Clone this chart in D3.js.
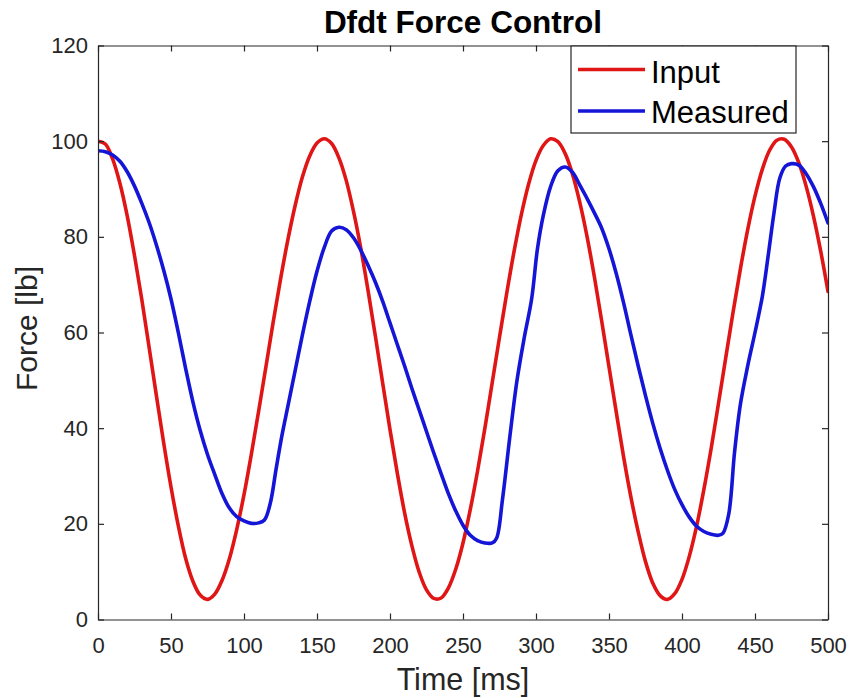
<!DOCTYPE html>
<html>
<head>
<meta charset="utf-8">
<script src="https://cdn.jsdelivr.net/npm/d3@7"></script>
<style>
  body { margin: 0; background: #fff; }
  svg { font-family: "Liberation Sans", Arial, sans-serif; }
</style>
</head>
<body>
<div id="chart"></div>
<script>
// time axis samples (ms) and force values (lb)
const inputTime = [0,5,10,15,20,25,30,35,40,45,50,55,60,65,70,75,80,85,90,95,100,105,110,115,120,125,130,135,140,145,150,155,160,165,170,175,180,185,190,195,200,205,210,215,220,225,230,235,240,245,250,255,260,265,270,275,280,285,290,295,300,305,310,315,320,325,330,335,340,345,350,355,360,365,370,375,380,385,390,395,400,405,410,415,420,425,430,435,440,445,450,455,460,465,470,475,480,485,490,495,500];
const inputForce = [100,99.4,96.3,91.2,84.4,76.1,66.9,56.9,46.8,36.9,27.7,19.6,12.8,8.0,5.1,4.2,5.3,8.2,12.7,18.8,26.1,34.5,43.5,52.8,62.2,71.1,79.3,86.5,92.5,96.9,99.6,100.5,99.5,96.5,91.8,85.3,77.6,68.7,59.2,49.4,39.7,30.6,22.3,15.4,9.9,6.2,4.4,4.5,6.6,10.5,16.0,23.0,31.1,40.0,49.5,59.0,68.3,77.0,84.7,91.1,96.0,99.1,100.5,99.9,97.4,93.1,87.2,80.0,71.6,62.4,52.8,43.3,34.0,25.6,18.3,12.1,7.6,5.0,4.2,5.4,8.4,13.2,19.5,27.2,35.8,45.2,54.8,64.3,73.3,81.5,88.5,94.1,98.1,100.2,100.4,98.8,95.5,90.6,84.4,77.0,68.6];

const measuredTime = [0,5,10,15,20,25,30,35,40,45,50,55,60,65,70,75,80,85,90,95,100,105,110,114,118,122,126,130,135,140,145,150,155,160,165,170,175,180,185,190,195,200,205,210,215,220,225,230,235,240,245,250,255,260,265,270,273,277,282,287,292,297,301,305,310,315,320,325,330,335,340,345,350,355,360,365,370,375,380,385,390,395,400,405,410,415,420,425,428,432,436,440,445,450,455,459,463,467,471,475,480,485,490,495,500];
const measuredForce = [98.0,97.8,97.1,95.8,93.6,90.6,87.0,83.0,78.3,73.0,67.0,60.0,52.5,45.5,39.5,34.5,30.3,26.3,23.3,21.5,20.6,20.1,20.2,20.8,24.3,31.5,38.5,44.5,52,59.5,66.5,72.8,77.8,81.2,82.0,81.5,79.8,77.2,74,70.5,66.5,62,57.5,53,48.3,43.8,39.3,34.8,30.5,26.3,22.7,19.7,17.6,16.5,16,16,17,25,38,50,59,67,77.5,84.5,90.5,93.8,94.6,93.5,90.8,88,85,81.8,77.5,72.3,66.2,59.5,53,46.8,41,35.8,31.2,27.2,24,21.4,19.5,18.4,17.8,17.6,18,22,35,45,53,60,67.5,76,85,92.3,94.8,95.3,95,93.2,90.5,87,82.9];

const xTicks = [0,50,100,150,200,250,300,350,400,450,500];
const yTicks = [0,20,40,60,80,100,120];
const seriesNames = ["Input", "Measured"];
const seriesColors = ["#e01515", "#1515d8"];

const W = 850, H = 698;
const plot = { left: 98, right: 828, top: 45.5, bottom: 619.5 };
const axisColor = "#262626";

const svg = d3.select("#chart").append("svg")
  .attr("width", W).attr("height", H);

const x = d3.scaleLinear().domain([0, 500]).range([plot.left, plot.right]);
const y = d3.scaleLinear().domain([0, 120]).range([plot.bottom, plot.top]);

// data lines
svg.append("clipPath").attr("id", "clip")
  .append("rect")
  .attr("x", plot.left).attr("y", plot.top)
  .attr("width", plot.right - plot.left).attr("height", plot.bottom - plot.top);

const line = d3.line()
  .x(d => x(d[0]))
  .y(d => y(d[1]))
  .curve(d3.curveCatmullRom.alpha(0.5));

const series = [
  d3.zip(inputTime, inputForce),
  d3.zip(measuredTime, measuredForce)
];

const lines = svg.append("g").attr("clip-path", "url(#clip)");
series.forEach((s, i) => {
  lines.append("path")
    .attr("d", line(s))
    .attr("fill", "none")
    .attr("stroke", seriesColors[i])
    .attr("stroke-width", 3.6)
    .attr("stroke-linejoin", "round")
    .attr("stroke-linecap", "round");
});

// axes (box with inward ticks)
function styleAxis(g) {
  g.select(".domain").attr("stroke", axisColor).attr("stroke-width", 1.2);
  g.selectAll(".tick line").attr("stroke", axisColor).attr("stroke-width", 1.2);
  g.selectAll(".tick text").attr("fill", axisColor).attr("font-size", 22)
    .attr("font-family", "'Liberation Sans', Arial, sans-serif");
}

svg.append("g")
  .attr("transform", `translate(0,${plot.bottom})`)
  .call(d3.axisBottom(x).tickValues(xTicks).tickSizeInner(-6).tickSizeOuter(0).tickPadding(18))
  .call(styleAxis);

svg.append("g")
  .attr("transform", `translate(0,${plot.top})`)
  .call(d3.axisTop(x).tickValues(xTicks).tickSizeInner(-6).tickSizeOuter(0).tickFormat(""))
  .call(styleAxis);

svg.append("g")
  .attr("transform", `translate(${plot.left},0)`)
  .call(d3.axisLeft(y).tickValues(yTicks).tickSizeInner(-6).tickSizeOuter(0).tickPadding(10))
  .call(styleAxis);

svg.append("g")
  .attr("transform", `translate(${plot.right},0)`)
  .call(d3.axisRight(y).tickValues(yTicks).tickSizeInner(-6).tickSizeOuter(0).tickFormat(""))
  .call(styleAxis);

// title and axis labels
svg.append("text")
  .attr("x", (plot.left + plot.right) / 2).attr("y", 33)
  .attr("text-anchor", "middle")
  .attr("font-size", 31.5).attr("font-weight", "bold")
  .attr("fill", "#000")
  .text("Dfdt Force Control");

svg.append("text")
  .attr("x", (plot.left + plot.right) / 2).attr("y", 690)
  .attr("text-anchor", "middle")
  .attr("font-size", 30.5)
  .attr("fill", axisColor)
  .text("Time [ms]");

svg.append("text")
  .attr("transform", `translate(37,${(plot.top + plot.bottom) / 2 - 4}) rotate(-90)`)
  .attr("text-anchor", "middle")
  .attr("font-size", 30)
  .attr("fill", axisColor)
  .text("Force [lb]");

// legend
const legend = svg.append("g");
legend.append("rect")
  .attr("x", 571).attr("y", 46)
  .attr("width", 225).attr("height", 87)
  .attr("fill", "#fff")
  .attr("stroke", axisColor).attr("stroke-width", 1.2);

const legendY = [69.5, 111];
const legendBase = [82.5, 123];
seriesNames.forEach((name, i) => {
  legend.append("line")
    .attr("x1", 578).attr("x2", 645)
    .attr("y1", legendY[i]).attr("y2", legendY[i])
    .attr("stroke", seriesColors[i]).attr("stroke-width", 3.6);
  legend.append("text")
    .attr("x", 651).attr("y", legendBase[i])
    .attr("font-size", 31)
    .attr("fill", "#000")
    .text(name);
});
</script>
</body>
</html>
